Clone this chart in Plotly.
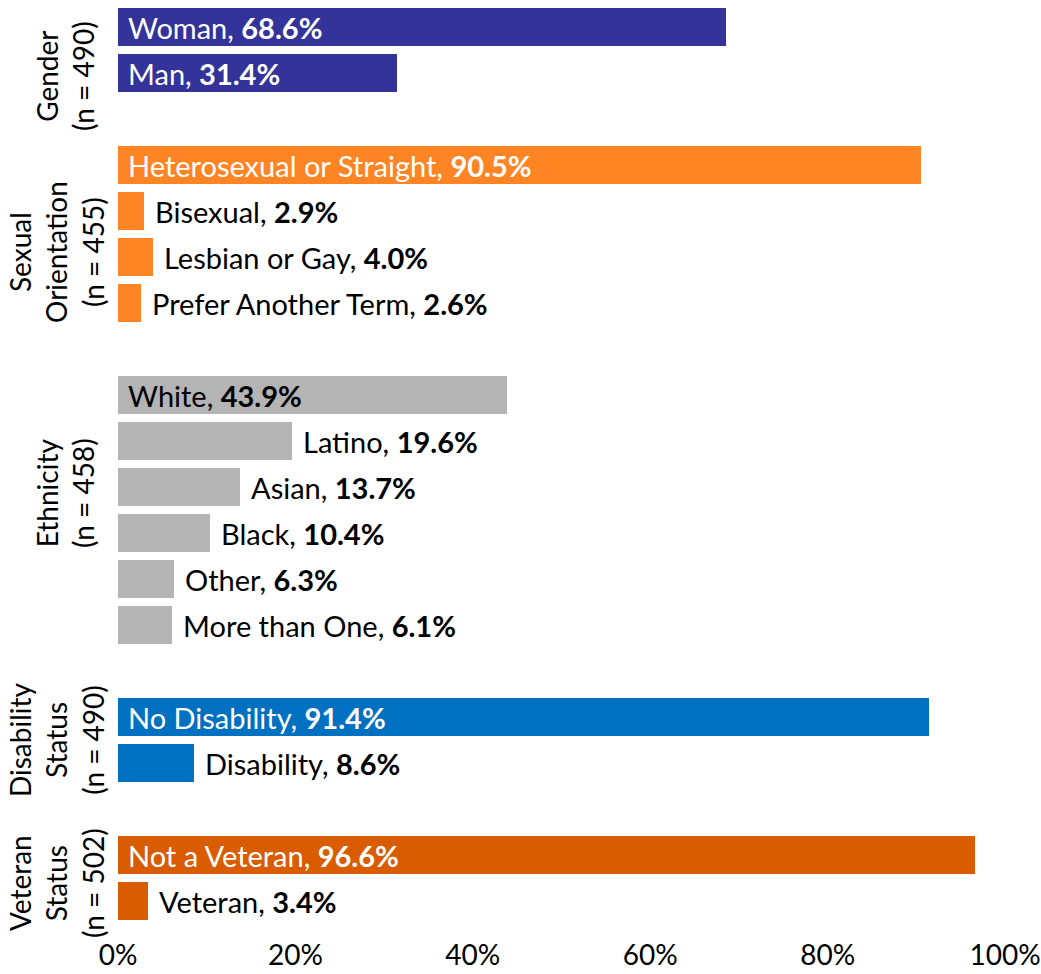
import plotly.graph_objects as go

# ---- data ----
groups = ["Gender", "Sexual Orientation", "Ethnicity", "Disability Status", "Veteran Status"]
group_titles = ["Gender<br>(n = 490)",
                "Sexual<br>Orientation<br>(n = 455)",
                "Ethnicity<br>(n = 458)",
                "Disability<br>Status<br>(n = 490)",
                "Veteran<br>Status<br>(n = 502)"]
gender_cats = ["Woman", "Man"]
gender_vals = [68.6, 31.4]
orient_cats = ["Heterosexual or Straight", "Bisexual", "Lesbian or Gay", "Prefer Another Term"]
orient_vals = [90.5, 2.9, 4.0, 2.6]
eth_cats = ["White", "Latino", "Asian", "Black", "Other", "More than One"]
eth_vals = [43.9, 19.6, 13.7, 10.4, 6.3, 6.1]
dis_cats = ["No Disability", "Disability"]
dis_vals = [91.4, 8.6]
vet_cats = ["Not a Veteran", "Veteran"]
vet_vals = [96.6, 3.4]
x_ticks = [0, 20, 40, 60, 80, 100]
x_ticktext = ["0%", "20%", "40%", "60%", "80%", "100%"]

# ---- style ----
colors = ["#333399", "#FF8424", "#B3B4B3", "#0070C0", "#D95D00"]
inside_text_colors = ["white", "white", "black", "white", "white"]
FONT = "Lato"
FS = 29
TFS = 28
W, H = 1041, 974
ML, MR, MT, MB = 118, 36, 4, 50
PW, PH = W - ML - MR, H - MT - MB

# group label centers (pixels)
title_px = [(65, 76), (56, 252), (65, 493), (56, 740), (56, 883)]

all_cats = [gender_cats, orient_cats, eth_cats, dis_cats, vet_cats]
all_vals = [gender_vals, orient_vals, eth_vals, dis_vals, vet_vals]

fig = go.Figure()
annotations = []
slot = 0
for gi, (cats, vals) in enumerate(zip(all_cats, all_vals)):
    ys = list(range(slot, slot + len(cats)))
    fig.add_trace(go.Bar(
        x=vals, y=ys, orientation="h", width=0.83,
        marker=dict(color=colors[gi], line=dict(width=0)),
        name=groups[gi], showlegend=False, hoverinfo="skip"))
    for c, v, y in zip(cats, vals, ys):
        inside = v > 25
        annotations.append(dict(
            x=0 if inside else v, y=y, xref="x", yref="y",
            text=f"{c}, <b>{v:.1f}%</b>", showarrow=False,
            xanchor="left", yanchor="middle",
            xshift=8 if inside else 9,
            font=dict(family=FONT, size=FS,
                      color=inside_text_colors[gi] if inside else "black")))
    slot += len(cats) + 1

n_slots = slot - 1
for t, (px, py) in zip(group_titles, title_px):
    annotations.append(dict(
        x=(px - ML) / PW, y=1 - (py - MT) / PH, xref="paper", yref="paper",
        text=t, showarrow=False, textangle=-90,
        xanchor="center", yanchor="middle",
        font=dict(family=FONT, size=TFS, color="black")))

fig.update_layout(
    width=W, height=H,
    margin=dict(l=ML, r=MR, t=MT, b=MB, autoexpand=False),
    paper_bgcolor="white", plot_bgcolor="white",
    font=dict(family=FONT, size=TFS, color="black"),
    bargap=0, annotations=annotations,
    xaxis=dict(range=[0, 100], tickvals=x_ticks, ticktext=x_ticktext,
               showgrid=False, zeroline=False, showline=False,
               ticks="outside", ticklen=6, tickcolor="rgba(0,0,0,0)",
               tickfont=dict(family=FONT, size=TFS, color="black"), fixedrange=True),
    yaxis=dict(range=[n_slots - 0.5, -0.5], showticklabels=False,
               showgrid=False, zeroline=False, showline=False, fixedrange=True),
)

fig.write_html("out.html", config={"displayModeBar": False},
               post_script="document.body.style.margin='0';document.body.style.overflow='hidden';")
